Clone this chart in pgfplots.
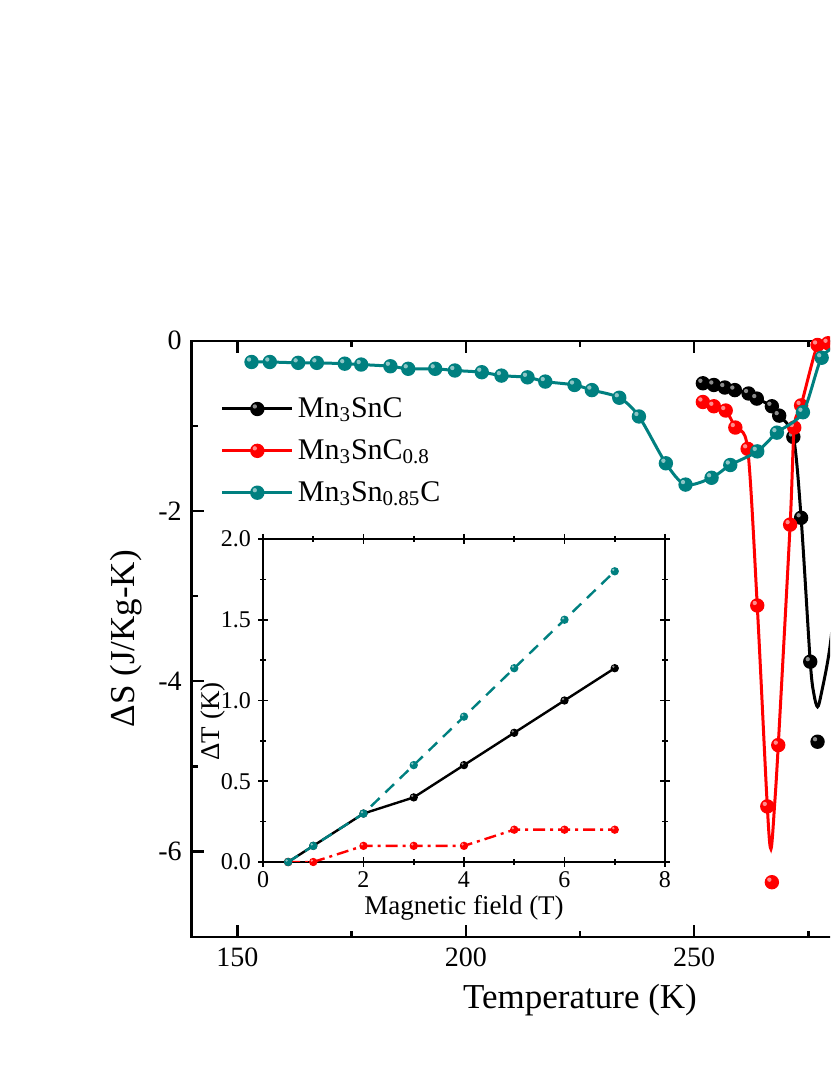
\documentclass[border=0pt]{standalone}
\usepackage{pgfplots}
\pgfplotsset{compat=1.18}
\usepackage{fontspec}
\setmainfont{Liberation Serif}

\definecolor{dcyan}{RGB}{0,128,128}
\definecolor{bred}{RGB}{255,0,0}

% shiny ball marker (filled circle plus a soft highlight)
\pgfdeclareplotmark{sball}{%
  \pgfpathcircle{\pgfpointorigin}{\pgfplotmarksize}%
  \pgfusepathqfill
  \pgfscope
  \pgfsetfillcolor{white}%
  \pgfsetfillopacity{0.55}%
  \pgfpathcircle{\pgfpoint{-0.35\pgfplotmarksize}{0.35\pgfplotmarksize}}{0.3\pgfplotmarksize}%
  \pgfusepathqfill
  \endpgfscope
}

\begin{document}
\begin{tikzpicture}
\path[use as bounding box] (-95.85pt,-69.15pt) rectangle (319.15pt,468.35pt);
\clip (-95.85pt,-69.15pt) rectangle (319.15pt,468.35pt);

\begin{axis}[
    scale only axis,
    width=388.3pt, height=298pt,
    xmin=140, xmax=310, ymin=-7, ymax=0,
    xtick={150,200,250}, minor xtick={175,225,275},
    ytick={-6,-4,-2,0}, minor y tick num=1,
    tick align=inside,
    major tick length=6pt, minor tick length=3pt,
    axis line style={line width=1.2pt},
    every tick/.style={line width=1.2pt, black},
    /pgf/number format/assume math mode=true,
    tick label style={font=\fontsize{14}{16}\selectfont\rmfamily},
    yticklabel style={xshift=-1.5pt},
    xticklabel style={yshift=-2pt},
    xlabel={Temperature (K)},
    ylabel={ΔS (J/Kg-K)},
    label style={font=\fontsize{17.5}{20}\selectfont},
    xlabel style={at={(axis description cs:0.5,-0.106)}, anchor=center},
    ylabel style={at={(axis description cs:-0.085,0.5)}, anchor=center},
    clip mode=individual,
    legend style={draw=none, fill=none, at={(0.037,0.912)}, anchor=north west,
        font=\fontsize{15}{17}\selectfont, row sep=5.5pt, inner sep=0pt},
    legend cell align=left,
    legend image code/.code={\draw[mark repeat=2, mark phase=2, #1]
        plot coordinates {(0pt,0pt) (17.5pt,0pt) (35pt,0pt)};},
]
% Mn3SnC
\addplot[black, line width=1.5pt, smooth, forget plot] coordinates {
    (251.9,-0.50) (254.3,-0.52) (256.7,-0.55) (258.9,-0.58) (261.9,-0.62)
    (263.7,-0.68) (267.0,-0.77) (268.6,-0.88) (271.7,-1.13) (273.4,-2.08)
    (275.4,-3.77) (276.2,-4.15) (277.0,-4.30) (277.8,-4.15) (279.7,-3.60)
    (282.0,-2.50)
};
\addplot[black, only marks, mark=sball, mark size=3.6pt, forget plot] coordinates {
    (251.9,-0.50) (254.3,-0.52) (256.7,-0.55) (258.9,-0.58) (261.9,-0.62)
    (263.7,-0.68) (267.0,-0.77) (268.6,-0.88) (271.7,-1.13) (273.4,-2.08)
    (275.4,-3.77) (277.0,-4.71)
};
% Mn3SnC0.8
\addplot[bred, line width=1.5pt, smooth, forget plot] coordinates {
    (251.9,-0.72) (254.3,-0.77) (256.9,-0.82) (259.0,-1.02) (261.7,-1.27)
    (263.8,-3.11) (266.0,-5.47) (266.8,-5.97) (267.6,-5.45) (268.4,-4.75)
    (271.0,-2.16) (271.9,-1.02) (273.4,-0.76) (277.0,-0.05) (279.3,-0.03)
    (282.0,-0.02)
};
\addplot[bred, only marks, mark=sball, mark size=3.6pt, forget plot] coordinates {
    (251.9,-0.72) (254.3,-0.77) (256.9,-0.82) (259.0,-1.02) (261.7,-1.27)
    (263.8,-3.11) (266.0,-5.47) (267.0,-6.36) (268.4,-4.75) (271.0,-2.16)
    (271.9,-1.02) (273.4,-0.76) (277.0,-0.05) (279.3,-0.03)
};
% Mn3Sn0.85C
\addplot[dcyan, line width=1.5pt, smooth, forget plot] coordinates {
    (153.1,-0.25) (157.1,-0.25) (163.3,-0.26) (167.4,-0.26) (173.5,-0.27)
    (177.1,-0.28) (183.5,-0.30) (187.4,-0.33) (193.3,-0.33) (197.6,-0.35)
    (203.5,-0.37) (207.8,-0.41) (213.5,-0.43) (217.4,-0.48) (223.8,-0.52)
    (227.6,-0.58) (233.6,-0.67) (237.9,-0.89) (243.8,-1.44) (248.1,-1.69)
    (253.8,-1.61) (257.9,-1.46) (263.8,-1.30) (268.1,-1.08) (273.8,-0.84)
    (277.9,-0.20) (282.0,-0.05)
};
\addplot[dcyan, only marks, mark=sball, mark size=3.6pt, forget plot] coordinates {
    (153.1,-0.25) (157.1,-0.25) (163.3,-0.26) (167.4,-0.26) (173.5,-0.27)
    (177.1,-0.28) (183.5,-0.30) (187.4,-0.33) (193.3,-0.33) (197.6,-0.35)
    (203.5,-0.37) (207.8,-0.41) (213.5,-0.43) (217.4,-0.48) (223.8,-0.52)
    (227.6,-0.58) (233.6,-0.67) (237.9,-0.89) (243.8,-1.44) (248.1,-1.69)
    (253.8,-1.61) (257.9,-1.46) (263.8,-1.30) (268.1,-1.08) (273.8,-0.84)
    (277.9,-0.20)
};
\addlegendimage{black, line width=1.5pt, mark=sball, mark size=3.6pt}
\addlegendentry{Mn\textsubscript{3}SnC}
\addlegendimage{bred, line width=1.5pt, mark=sball, mark size=3.6pt}
\addlegendentry{Mn\textsubscript{3}SnC\textsubscript{0.8}}
\addlegendimage{dcyan, line width=1.5pt, mark=sball, mark size=3.6pt}
\addlegendentry{Mn\textsubscript{3}Sn\textsubscript{0.85}C}
\end{axis}

% inset: temperature change vs field
\begin{axis}[
    at={(35.65pt,37.35pt)}, anchor=south west,
    scale only axis,
    width=201pt, height=161.5pt,
    xmin=0, xmax=8, ymin=0, ymax=2,
    xtick={0,2,4,6,8}, minor x tick num=1,
    ytick={0,0.5,1,1.5,2}, minor y tick num=1,
    tick align=center,
    major tick length=5pt, minor tick length=3pt,
    axis line style={line width=0.8pt},
    every tick/.style={line width=0.8pt, black},
    /pgf/number format/assume math mode=true,
    yticklabel style={/pgf/number format/.cd, fixed, fixed zerofill, precision=1},
    tick label style={font=\fontsize{12}{14}\selectfont\rmfamily},
    xticklabel style={inner sep=1pt, yshift=-1pt},
    xlabel={Magnetic field (T)},
    ylabel={ΔT (K)},
    label style={font=\fontsize{13.5}{15}\selectfont},
    xlabel style={at={(axis description cs:0.5,-0.143)}, anchor=center, inner sep=0pt},
    ylabel style={at={(axis description cs:-0.124,0.435)}, anchor=center},
    axis background/.style={fill=white},
    clip mode=individual,
]
\addplot[black, line width=1.2pt, mark=sball, mark size=2.1pt] coordinates {
    (0.5,0) (1,0.1) (2,0.3) (3,0.4) (4,0.6) (5,0.8) (6,1.0) (7,1.2)
};
\addplot[bred, line width=1.2pt, dash pattern=on 6pt off 2.5pt on 1.5pt off 2.5pt,
    mark=sball, mark size=2.1pt, mark options={solid}] coordinates {
    (0.5,0) (1,0) (2,0.1) (3,0.1) (4,0.1) (5,0.2) (6,0.2) (7,0.2)
};
\addplot[dcyan, line width=1.2pt, dash pattern=on 6pt off 4pt,
    mark=sball, mark size=2.1pt, mark options={solid}] coordinates {
    (0.5,0) (1,0.1) (2,0.3) (3,0.6) (4,0.9) (5,1.2) (6,1.5) (7,1.8)
};
\end{axis}
\end{tikzpicture}
\end{document}
